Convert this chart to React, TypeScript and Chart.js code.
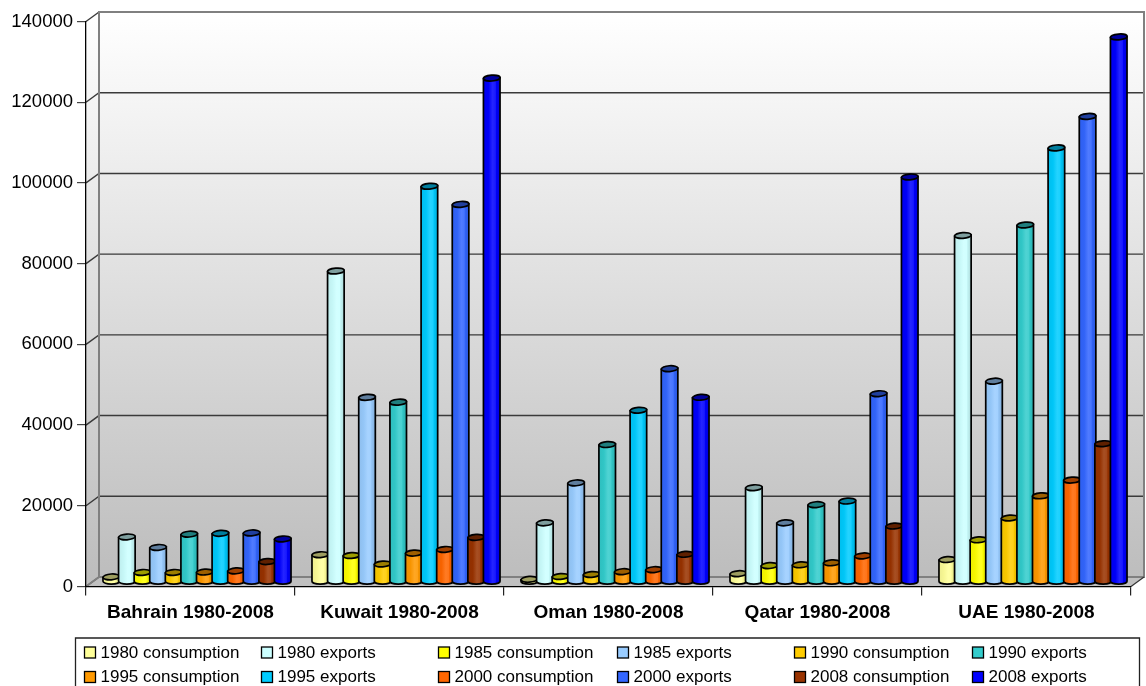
import React, { useEffect, useRef } from "react";
import { Chart, registerables, BarController, BarElement } from "chart.js";

const categories = ["Bahrain 1980-2008", "Kuwait 1980-2008", "Oman 1980-2008", "Qatar 1980-2008", "UAE 1980-2008"];
const consumption1980 = [1200, 6700, 600, 2000, 5500];
const exports1980 = [11100, 77000, 14600, 23300, 85800];
const consumption1985 = [2300, 6500, 1300, 4000, 10400];
const exports1985 = [8500, 45700, 24500, 14600, 49700];
const consumption1990 = [2300, 4400, 1800, 4200, 15800];
const exports1990 = [11800, 44500, 34000, 19100, 88400];
const consumption1995 = [2400, 7100, 2500, 4700, 21300];
const exports1995 = [12000, 98000, 42500, 20000, 107500];
const consumption2000 = [2700, 8000, 3000, 6400, 25200];
const exports2000 = [12100, 93500, 52800, 46600, 115300];
const consumption2008 = [5000, 11000, 6800, 13800, 34200];
const exports2008 = [10600, 124800, 45700, 100300, 135000];

const seriesLabels = [
  "1980 consumption", "1980 exports", "1985 consumption", "1985 exports",
  "1990 consumption", "1990 exports", "1995 consumption", "1995 exports",
  "2000 consumption", "2000 exports", "2008 consumption", "2008 exports",
];
const seriesValues = [
  consumption1980, exports1980, consumption1985, exports1985,
  consumption1990, exports1990, consumption1995, exports1995,
  consumption2000, exports2000, consumption2008, exports2008,
];
const seriesColors = [
  "#FFFF99", "#CCFFFF", "#FFFF00", "#99CCFF",
  "#FFCC00", "#33CCCC", "#FF9900", "#00CCFF",
  "#FF6600", "#3366FF", "#993300", "#0000FF",
];
const legendOrder = [0, 1, 2, 3, 4, 5, 6, 7, 8, 9, 10, 11];

const DEPTH_X = 13;
const DEPTH_Y = 9.5;
const FONT = '"Liberation Sans", Arial, sans-serif';

function shade(hex: string, f: number, mix = 0) {
  const n = parseInt(hex.slice(1), 16);
  const c = [(n >> 16) & 255, (n >> 8) & 255, n & 255].map((v) => {
    const d = v * f + (255 - v * f) * mix;
    return Math.round(Math.min(255, d));
  });
  return `rgb(${c[0]},${c[1]},${c[2]})`;
}

class CylinderBar extends BarElement {
  static id = "cylinderBar";
  static defaults = { ...BarElement.defaults };
  draw(ctx: CanvasRenderingContext2D) {
    const { x, y, base, width } = (this as any).getProps(["x", "y", "base", "width"]);
    const color: string = (this as any).options.backgroundColor;
    const cx = x + DEPTH_X / 2;
    const top = y - DEPTH_Y / 2;
    const bottom = base - DEPTH_Y / 2;
    const rx = width / 2 + 0.5;
    const ry = 2.9;
    const tilt = -0.07;
    ctx.save();
    const g = ctx.createLinearGradient(cx - rx, 0, cx + rx, 0);
    g.addColorStop(0, shade(color, 0.93));
    g.addColorStop(0.3, shade(color, 0.97));
    g.addColorStop(0.55, shade(color, 1, 0.14));
    g.addColorStop(0.72, shade(color, 1, 0.1));
    g.addColorStop(0.78, shade(color, 0.96));
    g.addColorStop(1, shade(color, 0.85));
    ctx.beginPath();
    ctx.moveTo(cx - rx, top + 0.55);
    ctx.lineTo(cx - rx, bottom);
    ctx.ellipse(cx, bottom, rx, ry, 0, Math.PI, 0, true);
    ctx.lineTo(cx + rx, top - 0.55);
    ctx.closePath();
    ctx.fillStyle = g;
    ctx.fill();
    ctx.strokeStyle = "#000";
    ctx.lineWidth = 1.7;
    ctx.stroke();
    ctx.beginPath();
    ctx.ellipse(cx, top, rx, ry, tilt, 0, Math.PI * 2);
    ctx.fillStyle = shade(color, 0.62);
    ctx.fill();
    ctx.stroke();
    ctx.restore();
  }
}

class CylinderController extends BarController {
  static id = "cylinder";
  static defaults = { ...BarController.defaults, dataElementType: "cylinderBar" };
}

Chart.register(...registerables, CylinderBar as any, CylinderController as any);

const wallPlugin = {
  id: "wall3d",
  beforeDraw(chart: any) {
    const { ctx, chartArea: a, scales } = chart;
    const y = scales.y;
    const backTop = a.top - DEPTH_Y;
    const backBottom = a.bottom - DEPTH_Y;
    ctx.save();
    ctx.fillStyle = "#fff";
    ctx.fillRect(0, 0, chart.width, chart.height);
    const g = ctx.createLinearGradient(0, backTop, 0, backBottom);
    g.addColorStop(0, "#FFFFFF");
    g.addColorStop(1, "#BDBDBD");
    ctx.fillStyle = g;
    ctx.fillRect(a.left + DEPTH_X, backTop, a.right - a.left, backBottom - backTop);
    ctx.beginPath();
    ctx.moveTo(a.left, a.top);
    ctx.lineTo(a.left + DEPTH_X, backTop);
    ctx.lineTo(a.left + DEPTH_X, backBottom);
    ctx.lineTo(a.left, a.bottom);
    ctx.closePath();
    ctx.fill();
    ctx.beginPath();
    ctx.moveTo(a.left, a.bottom);
    ctx.lineTo(a.left + DEPTH_X, backBottom);
    ctx.lineTo(a.right + DEPTH_X, backBottom);
    ctx.lineTo(a.right, a.bottom);
    ctx.closePath();
    ctx.fillStyle = "#C0C0C0";
    ctx.fill();
    // gridlines, from the value axis
    for (const t of y.ticks) {
      const py = y.getPixelForValue(t.value);
      ctx.beginPath();
      ctx.moveTo(a.left, py);
      ctx.lineTo(a.left + DEPTH_X, py - DEPTH_Y);
      if (t.value > 0 && t.value < y.max) ctx.lineTo(a.right + DEPTH_X, py - DEPTH_Y);
      ctx.strokeStyle = "#3a3a3a";
      ctx.lineWidth = 1.4;
      ctx.stroke();
    }
    ctx.strokeStyle = "#808080";
    ctx.lineWidth = 2;
    ctx.beginPath();
    ctx.moveTo(a.left + DEPTH_X, backBottom);
    ctx.lineTo(a.left + DEPTH_X, backTop);
    ctx.lineTo(a.right + DEPTH_X, backTop);
    ctx.lineTo(a.right + DEPTH_X, backBottom);
    ctx.lineTo(a.left + DEPTH_X, backBottom);
    ctx.moveTo(a.left, a.bottom);
    ctx.lineTo(a.left + DEPTH_X, backBottom);
    ctx.stroke();
    ctx.strokeStyle = "#333";
    ctx.lineWidth = 1.2;
    ctx.beginPath();
    ctx.moveTo(a.right, a.bottom);
    ctx.lineTo(a.right + DEPTH_X, backBottom);
    ctx.stroke();
    ctx.restore();
  },
  beforeDatasetsDraw(chart: any) {
    // Left-to-right painting, so later cylinders overlap earlier ones.
    chart.getSortedVisibleDatasetMetas().slice().sort((p: any, q: any) => p.index - q.index)
      .forEach((meta: any) => meta.controller.draw());
    return false;
  },
};

const legendCols = [84, 261, 438, 617, 794, 972];
const legendRows = [652.5, 677];
const legendPlugin = {
  id: "boxLegend",
  afterDraw(chart: any) {
    const { ctx } = chart;
    ctx.save();
    ctx.fillStyle = "#fff";
    ctx.strokeStyle = "#222";
    ctx.lineWidth = 1.3;
    ctx.beginPath();
    ctx.rect(75.5, 638, 1064, 60);
    ctx.fill();
    ctx.stroke();
    ctx.font = `17px ${FONT}`;
    ctx.textBaseline = "middle";
    ctx.textAlign = "left";
    legendOrder.forEach((i, k) => {
      const ds = chart.data.datasets[i];
      const x = legendCols[k % 6];
      const y = legendRows[Math.floor(k / 6)];
      ctx.fillStyle = ds.backgroundColor;
      ctx.fillRect(x + 0.5, y - 5.5, 11, 11);
      ctx.strokeStyle = "#000";
      ctx.lineWidth = 1.3;
      ctx.strokeRect(x + 0.5, y - 5.5, 11, 11);
      ctx.fillStyle = "#000";
      ctx.fillText(ds.label, x + 16.5, y + 0.5);
    });
    ctx.restore();
  },
};

export default function App() {
  const ref = useRef<HTMLCanvasElement>(null);
  useEffect(() => {
    const chart = new Chart(ref.current!, {
      type: "cylinder" as any,
      data: {
        labels: categories,
        datasets: seriesLabels.map((label, i) => ({
          label,
          data: seriesValues[i],
          backgroundColor: seriesColors[i],
          borderColor: "#000",
          borderWidth: 1,
        })),
      },
      options: {
        animation: false,
        responsive: false,
        maintainAspectRatio: false,
        categoryPercentage: 0.895,
        barPercentage: 1,
        layout: { padding: { top: 21.5, right: 15, left: 0, bottom: 0 } },
        plugins: { legend: { display: false }, tooltip: { enabled: false }, title: { display: false } },
        scales: {
          x: {
            type: "category",
            offset: true,
            grid: { offset: true, drawOnChartArea: false, drawTicks: true, tickLength: 9, color: "#222", lineWidth: 1.2 },
            border: { color: "#000", width: 1.3 },
            ticks: { padding: 6, color: "#000", maxRotation: 0, autoSkip: false, font: { family: FONT, size: 19, weight: "bold" } },
            afterFit(s: any) { s.height = 99.5; },
          },
          y: {
            type: "linear",
            min: 0,
            max: 140000,
            beginAtZero: true,
            grid: { drawOnChartArea: false, drawTicks: true, tickLength: 9, color: "#444", lineWidth: 1.2 },
            border: { color: "#000", width: 1.3 },
            ticks: { stepSize: 20000, padding: 4, color: "#000", font: { family: FONT, size: 18.5 }, callback: (v: any) => String(v) },
            afterFit(s: any) { s.width = 86; },
          },
        },
      } as any,
      plugins: [wallPlugin, legendPlugin] as any,
    });
    return () => chart.destroy();
  }, []);
  return (
    <div style={{ position: "absolute", left: 0, top: 0, width: 1146, height: 686, overflow: "hidden", background: "#fff" }}>
      <canvas ref={ref} width={1146} height={686} style={{ display: "block" }} />
    </div>
  );
}
